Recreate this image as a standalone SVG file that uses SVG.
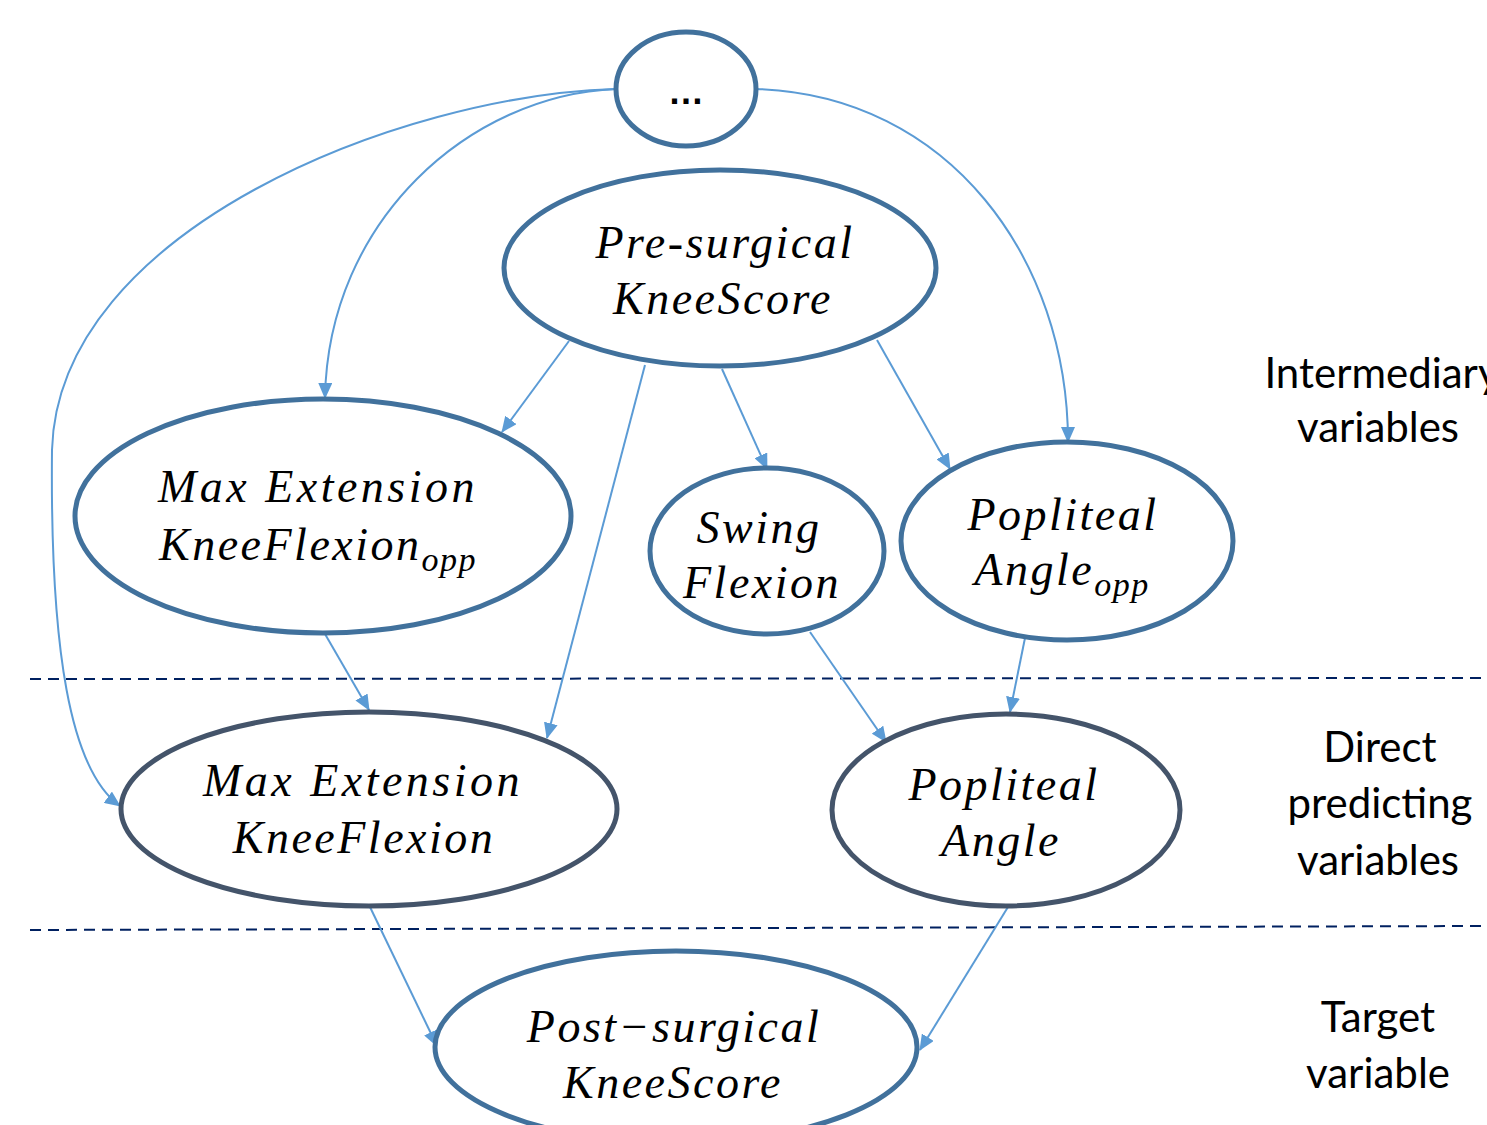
<svg xmlns="http://www.w3.org/2000/svg" width="1487" height="1125" viewBox="0 0 1487 1125">
<defs>
<marker id="ah" markerWidth="16" markerHeight="14" refX="15" refY="7" orient="auto" markerUnits="userSpaceOnUse">
<path d="M0,0 L16,7 L0,14 Z" fill="#5B9BD5"/>
</marker>
<style>
.n1{fill:#fff;stroke:#41719C;stroke-width:5}
.n2{fill:#fff;stroke:#44546A;stroke-width:5}
.c{fill:none;stroke:#5B9BD5;stroke-width:2;marker-end:url(#ah)}
.t{font-family:"Liberation Serif","DejaVu Serif",serif;font-style:italic;font-size:46px;letter-spacing:2.5px;fill:#000;text-anchor:middle}
.sub{font-size:34px;letter-spacing:1.5px}
.lab{font-family:Lato,"Liberation Sans",sans-serif;font-size:42px;fill:#000;text-anchor:middle}
.dash{stroke:#002060;stroke-width:2;stroke-dasharray:11 7;fill:none}
</style>
</defs>
<rect width="1487" height="1125" fill="#fff"/>
<g id="dividers">
<line class="dash" x1="30" y1="679" x2="1487" y2="678"/>
<line class="dash" x1="30" y1="930" x2="1487" y2="926"/>
</g>
<g id="connectors">
<path class="c" d="M616,89 C400,95 58,230 52,450 C50,650 70,770 120,806"/>
<path class="c" d="M616,89 C470,95 328,220 325,398"/>
<path class="c" d="M756,89 C950,95 1068,260 1068,442"/>
<path class="c" d="M569,341 L502,432"/>
<path class="c" d="M645,365 L547,738"/>
<path class="c" d="M722,369 L767,469"/>
<path class="c" d="M877,340 L950,469"/>
<path class="c" d="M325,634 L369,710"/>
<path class="c" d="M810,632 L886,742"/>
<path class="c" d="M1025,638 L1010,712"/>
<path class="c" d="M370,907 L437,1046"/>
<path class="c" d="M1008,907 L920,1050"/>
</g>
<g id="node-dots">
<ellipse class="n1" cx="686" cy="89" rx="70" ry="57"/>
<text x="686" y="104" font-family="Liberation Sans,sans-serif" font-size="36" text-anchor="middle" font-weight="bold">…</text>
</g>
<g id="node-presurgical">
<ellipse class="n1" cx="720" cy="268" rx="216" ry="98"/>
<text class="t" x="725" y="258">Pre-surgical</text>
<text class="t" x="723" y="314">KneeScore</text>
</g>
<g id="node-maxext-opp">
<ellipse class="n1" cx="323" cy="516" rx="248" ry="117"/>
<text class="t" x="318" y="502" style="letter-spacing:3.5px">Max Extension</text>
<text class="t" x="318" y="560">KneeFlexion<tspan class="sub" dy="11">opp</tspan></text>
</g>
<g id="node-swing">
<ellipse class="n1" cx="767" cy="551" rx="117" ry="83"/>
<text class="t" x="759" y="543">Swing</text>
<text class="t" x="762" y="598">Flexion</text>
</g>
<g id="node-popliteal-opp">
<ellipse class="n1" cx="1067" cy="541" rx="166" ry="99"/>
<text class="t" x="1063" y="530">Popliteal</text>
<text class="t" x="1062" y="585">Angle<tspan class="sub" dy="11">opp</tspan></text>
</g>
<g id="node-maxext">
<ellipse class="n2" cx="369" cy="809" rx="248" ry="97"/>
<text class="t" x="363" y="796" style="letter-spacing:3.5px">Max Extension</text>
<text class="t" x="364" y="853">KneeFlexion</text>
</g>
<g id="node-popliteal">
<ellipse class="n2" cx="1006" cy="810" rx="174" ry="96"/>
<text class="t" x="1004" y="800">Popliteal</text>
<text class="t" x="1001" y="856">Angle</text>
</g>
<g id="node-postsurgical">
<ellipse class="n1" cx="676" cy="1047" rx="241" ry="96"/>
<text class="t" x="674" y="1042">Post−surgical</text>
<text class="t" x="673" y="1098">KneeScore</text>
</g>
<g id="labels">
<text class="lab" x="1382" y="388">Intermediary</text>
<text class="lab" x="1378" y="442">variables</text>
<text class="lab" x="1380" y="762">Direct</text>
<text class="lab" x="1380" y="818">predicting</text>
<text class="lab" x="1378" y="875">variables</text>
<text class="lab" x="1378" y="1032">Target</text>
<text class="lab" x="1378" y="1088">variable</text>
</g>
</svg>
